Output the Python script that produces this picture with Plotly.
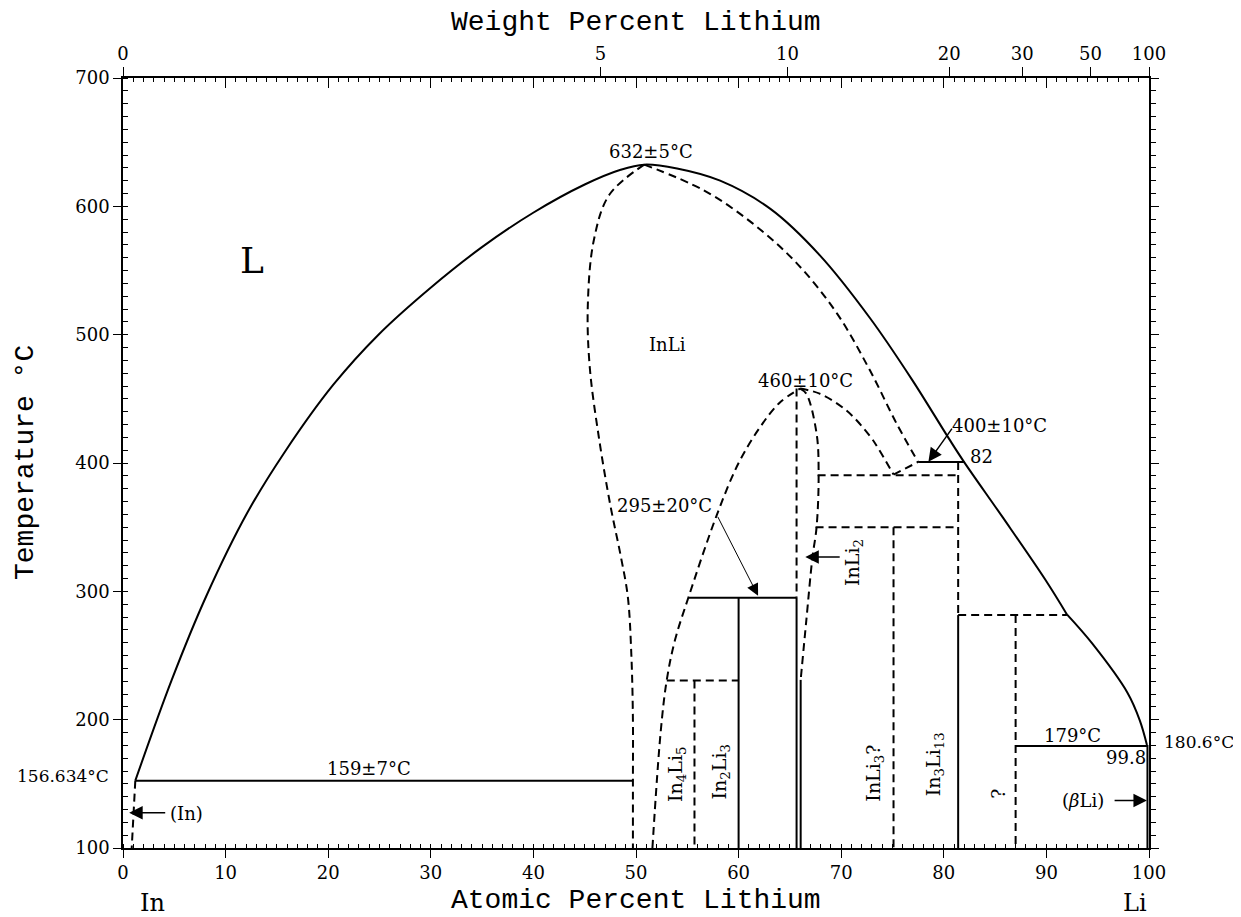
import plotly.graph_objects as go

# --- phase boundaries (at.% Li, deg C) ---
liquidus_x = [1.2, 4.75, 8.1, 12.1, 15.8, 20.5, 24.9, 29.9, 34.95, 39.98, 45.0, 48.5, 50.8,
              54.0, 58.2, 63.1, 67.9, 72.8, 76.9, 80.5, 82.0, 85.8, 89.9, 92.0]
liquidus_t = [152.5, 231, 296, 361, 409, 461, 500, 536, 568, 595, 617, 628.5, 632.5,
              629.5, 620, 598, 562, 513, 465, 419, 400.5, 357, 309, 282]
liq_li_x = [92.0, 94.5, 97.9, 99.1, 99.8]
liq_li_t = [282, 259, 221, 199.5, 180.3]

inli_left_x = [50.8, 47.4, 45.9, 45.3, 45.5, 46.4, 47.5, 48.5, 49.2, 49.55, 49.7, 49.7, 49.7]
inli_left_t = [632.5, 609, 574, 522, 474, 419, 367, 328, 296, 250, 200, 152.5, 100]
inli_right_x = [50.8, 56.6, 61.4, 65.7, 69.6, 72.8, 75.4, 77.5]
inli_right_t = [632.5, 612.5, 586.5, 555.4, 516.4, 472.2, 430.7, 400.8]

dome_left_x = [51.6, 52.4, 53.0, 53.8, 55.1, 57.9, 60.0, 62.1, 64.0, 66.0]
dome_left_t = [100, 190, 231, 262, 295, 360, 400, 428, 447, 458]
dome_right_x = [66.0, 67.9, 70.5, 72.8, 73.6, 75.1]
dome_right_t = [458, 454, 441, 421, 411.5, 391]
inli2_right_x = [66.0, 66.6, 67.6, 67.8, 67.6, 67.2, 66.6, 66.05]
inli2_right_t = [458, 454, 423, 391.7, 350, 326.7, 277.4, 231]
in_solvus_x = [1.2, 0.85]
in_solvus_t = [152.5, 100]

# straight segments: (x0, x1, t0, t1)
solid_segments = [
    (1.2, 49.7, 152.5, 152.5),
    (55.1, 65.65, 295, 295),
    (77.5, 82.0, 400.8, 400.8),
    (87.0, 99.8, 179.5, 179.5),
    (60.0, 60.0, 295, 100),
    (65.65, 65.65, 295, 100),
    (66.05, 66.05, 231, 100),
    (81.4, 81.4, 281.5, 100),
    (99.85, 99.85, 180.3, 100),
]
dashed_segments = [
    (75.1, 77.5, 391, 400.8),
    (65.65, 65.65, 458, 295),
    (67.7, 81.4, 390.4, 390.4),
    (67.5, 81.4, 350, 350),
    (81.4, 81.4, 400.8, 281.5),
    (75.1, 75.1, 350, 100),
    (53.0, 60.0, 230.5, 230.5),
    (55.7, 55.7, 230.5, 100),
    (81.4, 92.0, 281.5, 281.5),
    (87.0, 87.0, 281.5, 100),
]

wt_ticks = [0, 5, 10, 20, 30, 50, 100]
M_LI, M_IN = 6.941, 114.82

def wt_to_at(w):
    if w >= 100:
        return 100.0
    r = (w / M_LI) / ((100 - w) / M_IN)
    return 100 * r / (1 + r)

SERIF = "DejaVu Serif"
MONO = "Liberation Mono"
DASH = "8px,5px"

fig = go.Figure()

def add_line(x, y, dash=None, shape="linear", width=2, smoothing=1.0):
    fig.add_trace(go.Scatter(
        x=x, y=y, mode="lines", showlegend=False, hoverinfo="skip",
        line=dict(color="black", width=width, dash=dash, shape=shape, smoothing=smoothing),
    ))

add_line(liquidus_x, liquidus_t, shape="spline")
add_line(liq_li_x, liq_li_t, shape="spline")

for x, t in [(inli_left_x, inli_left_t), (inli_right_x, inli_right_t),
             (dome_left_x, dome_left_t), (dome_right_x, dome_right_t),
             (inli2_right_x, inli2_right_t)]:
    add_line(x, t, dash=DASH, shape="spline")
add_line(in_solvus_x, in_solvus_t, dash=DASH)

for x0, x1, t0, t1 in solid_segments:
    add_line([x0, x1], [t0, t1])
for x0, x1, t0, t1 in dashed_segments:
    add_line([x0, x1], [t0, t1], dash=DASH)

# dummy traces so the overlay axes are drawn
fig.add_trace(go.Scatter(x=[50], y=[400], xaxis="x2", mode="markers",
                         marker=dict(opacity=0), showlegend=False, hoverinfo="skip"))
fig.add_trace(go.Scatter(x=[50], y=[400], xaxis="x3", mode="markers",
                         marker=dict(opacity=0), showlegend=False, hoverinfo="skip"))
fig.add_trace(go.Scatter(x=[50], y=[400], yaxis="y2", mode="markers",
                         marker=dict(opacity=0), showlegend=False, hoverinfo="skip"))

tickfont = dict(family=SERIF, size=18, color="black")
axis_common = dict(range=[0, 100], showgrid=False, zeroline=False, linecolor="black",
                   linewidth=1.5, tickcolor="black", tickwidth=1.2)

# page body adds an 8px margin, so the figure is a little smaller than the window
fig.update_layout(
    width=1233, height=909,
    margin=dict(l=115, r=92, t=70, b=69),
    plot_bgcolor="white", paper_bgcolor="white",
    xaxis=dict(**axis_common, showline=True, ticks="outside", ticklen=8,
               tickmode="linear", tick0=0, dtick=10, tickfont=tickfont,
               minor=dict(ticks="inside", ticklen=4, dtick=1, tickcolor="black", tickwidth=1)),
    xaxis3=dict(**axis_common, overlaying="x", side="top", anchor="y", showline=True,
                ticks="inside", ticklen=10, tickmode="linear", tick0=0, dtick=10,
                showticklabels=False,
                minor=dict(ticks="inside", ticklen=4, dtick=1, tickcolor="black", tickwidth=1)),
    xaxis2=dict(**axis_common, overlaying="x", side="top", anchor="y", showline=False,
                ticks="outside", ticklen=10, tickmode="array",
                tickvals=[wt_to_at(w) for w in wt_ticks],
                ticktext=[str(w) for w in wt_ticks], tickfont=tickfont),
    yaxis=dict(range=[100, 700], showgrid=False, zeroline=False, showline=True,
               linecolor="black", linewidth=1.5, ticks="outside", ticklen=8,
               tickcolor="black", tickwidth=1.2, tickmode="linear", tick0=100, dtick=100,
               tickfont=tickfont,
               minor=dict(ticks="inside", ticklen=5, dtick=10, tickcolor="black", tickwidth=1)),
    yaxis2=dict(range=[100, 700], overlaying="y", side="right", anchor="x",
                showgrid=False, zeroline=False, showline=True, linecolor="black",
                linewidth=1.5, ticks="outside", ticklen=8, tickcolor="black", tickwidth=1.2,
                tickmode="linear", tick0=100, dtick=100, showticklabels=False,
                minor=dict(ticks="outside", ticklen=5, dtick=10, tickcolor="black", tickwidth=1)),
)

def label(text, x, y, size=18, angle=0, family=SERIF):
    fig.add_annotation(x=x, y=y, xref="x", yref="y", text=text, showarrow=False,
                       textangle=angle, xanchor="center", yanchor="middle",
                       font=dict(family=family, size=size, color="black"))

def arrow(x_head, y_head, x_tail, y_tail, width=1.5, size=1.8):
    fig.add_annotation(x=x_head, y=y_head, ax=x_tail, ay=y_tail, xref="x", yref="y",
                       axref="x", ayref="y", text="", showarrow=True, arrowhead=2,
                       arrowsize=size, arrowwidth=width, arrowcolor="black")

def paper_text(text, x, y, size, family, angle=0):
    fig.add_annotation(x=x, y=y, xref="paper", yref="paper", text=text, showarrow=False,
                       xanchor="center", yanchor="middle", textangle=angle,
                       font=dict(family=family, size=size, color="black"))

label("L", 12.6, 558, size=36)
label("InLi", 53.1, 492)
label("632±5°C", 51.5, 642.5)
label("460±10°C", 66.5, 464.5)
label("295±20°C", 52.8, 367)
label("400±10°C", 85.4, 429)
label("82", 83.7, 405)
label("159±7°C", 24.0, 162)
label("179°C", 92.5, 188)
label("99.8", 97.8, 170.5)
label("(In)", 6.2, 127)
label("(<i>β</i>Li)", 93.6, 137)
label("InLi<sub>2</sub>", 71.2, 322.5, size=19, angle=-90)
label("In<sub>4</sub>Li<sub>5</sub>", 54.0, 157, size=19, angle=-90)
label("In<sub>2</sub>Li<sub>3</sub>", 58.2, 159, size=19, angle=-90)
label("InLi<sub>3</sub>?", 73.3, 158, size=19, angle=-90)
label("In<sub>3</sub>Li<sub>13</sub>", 79.1, 165, size=19, angle=-90)
label("?", 85.3, 142.5, size=19, angle=-90)

arrow(61.9, 296.5, 57.9, 359.2, width=1, size=2.4)
arrow(78.5, 401, 80.9, 428)
arrow(66.5, 326.7, 70.0, 326.7)
arrow(0.6, 127.5, 4.26, 127.5)
arrow(99.8, 137, 96.5, 137)

fig.add_annotation(x=0, y=156, xref="paper", yref="y", text="156.634°C", showarrow=False,
                   xanchor="right", yanchor="middle", xshift=-12,
                   font=dict(family=SERIF, size=17, color="black"))
fig.add_annotation(x=1, y=182.4, xref="paper", yref="y", text="180.6°C", showarrow=False,
                   xanchor="left", yanchor="middle", xshift=13,
                   font=dict(family=SERIF, size=17, color="black"))

paper_text("Atomic Percent Lithium", 0.5, -0.068, 28, MONO)
paper_text("Weight Percent Lithium", 0.5, 1.0723, 28, MONO)
paper_text("Temperature °C", -0.0955, 0.5, 28, MONO, angle=-90)
paper_text("In", 0.029, -0.0717, 24, SERIF)
paper_text("Li", 0.986, -0.0717, 24, SERIF)

fig.write_html("out.html")
